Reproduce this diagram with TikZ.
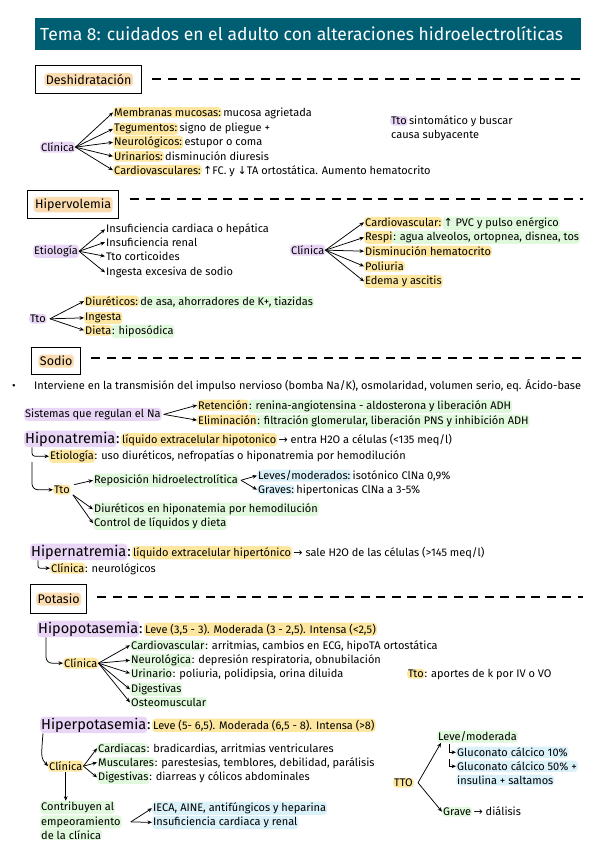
\documentclass[tikz,border=0pt]{standalone}
\usepackage{fontspec}
\setmainfont{Fira Sans}
\newfontfamily\symf{DejaVu Sans}
\usetikzlibrary{arrows.meta}
\definecolor{titlebg}{RGB}{0,94,115}
\definecolor{hlY}{RGB}{253,231,160}
\definecolor{hlP}{RGB}{233,214,246}
\definecolor{hlG}{RGB}{224,248,220}
\definecolor{hlB}{RGB}{218,241,250}
\definecolor{hlO}{RGB}{251,220,176}
\newcommand{\up}{{\symf\char"2191}}
\newcommand{\dn}{{\symf\char"2193}}
\newcommand{\ra}{{\symf\char"2192}}
\tikzset{
  txt/.style={inner sep=1pt, anchor=base west, font=\fontsize{11}{13}\selectfont},
  col/.style={xshift=-1.5pt},
  hl/.style={txt, rounded corners=3.5pt},
  hy/.style={hl, fill=hlY},
  hp/.style={hl, fill=hlP},
  hg/.style={hl, fill=hlG},
  hb/.style={hl, fill=hlB},
  ho/.style={hl, fill=hlO, anchor=center, font=\fontsize{12.5}{14}\selectfont, inner sep=1.5pt},
  big/.style={font=\fontsize{14.5}{16}\selectfont},
  secbox/.style={draw=black, line width=1.3pt, fill=white, anchor=north west, inner sep=0pt},
  dashline/.style={line width=2.2pt, dash pattern=on 9pt off 6.5pt},
  arr/.style={-{Stealth[length=4.5pt,width=3.8pt]}, line width=0.75pt},
}
\begin{document}
\begin{tikzpicture}[x=1pt,y=-1pt]
\useasboundingbox (0,0) rectangle (600,848);
% title
\node[fill=titlebg, anchor=north west, minimum width=546pt, minimum height=32pt, inner sep=0pt] (title) at (35,18) {};
\node[anchor=west, text=white, font=\fontsize{17.5}{19}\selectfont, inner sep=0pt] (titlet) at (40,34) {Tema 8: cuidados en el adulto con alteraciones hidroelectrolíticas};

% ===== Deshidratación
\node[secbox, minimum width=106pt, minimum height=28pt] (sD) at (35,65) {};
\node[ho] (sDt) at (sD.center) {Deshidratación};
\coordinate (sDe) at (583,79);
\draw[dashline] ([xshift=10pt]sD.east |- sDe) -- (sDe);

\node[hp] (dcl) at (40,151.5) {Clínica};
\node[hy] (d1) at (113,116.5) {Membranas mucosas:};
\node[txt] (d1t) at (d1.base east) {mucosa agrietada};
\node[hy] (d2) at (113,131.5) {Tegumentos:};
\node[txt] (d2t) at (d2.base east) {signo de pliegue +};
\node[hy] (d3) at (113,145.5) {Neurológicos:};
\node[txt] (d3t) at (d3.base east) {estupor o coma};
\node[hy] (d4) at (113,160.5) {Urinarios:};
\node[txt] (d4t) at (d4.base east) {disminución diuresis};
\node[hy] (d5) at (113,174.5) {Cardiovasculares:};
\node[txt] (d5t) at (d5.base east) {\up FC. y \dn TA ortostática. Aumento hematocrito};
\foreach \n in {d1,d2,d3,d4,d5} \draw[arr] (dcl.east) -- (\n.west);
\node[hp] (dtto) at (390,124.5) {Tto};
\node[txt] (dtto2) at (dtto.base east) {sintomático y buscar};
\node[txt] (dtto3) at (390,138.5) {causa subyacente};

% ===== Hipervolemia
\node[secbox, minimum width=91pt, minimum height=28pt] (sH) at (27,190) {};
\node[ho] (sHt) at (sH.center) {Hipervolemia};
\coordinate (sHe) at (583,199);
\draw[dashline] ([xshift=11pt]sH.east |- sHe) -- (sHe);

\node[hp] (het) at (33,254.5) {Etiología};
\node[txt] (he1) at (105,232.5) {Insuficiencia cardiaca o hepática};
\node[txt] (he2) at (105,246.5) {Insuficiencia renal};
\node[txt] (he3) at (105,260.5) {Tto corticoides};
\node[txt] (he4) at (105,275.5) {Ingesta excesiva de sodio};
\foreach \n in {he1,he2,he3,he4} \draw[arr] (het.east) -- (\n.west);

\node[hp] (hcl) at (290,254.5) {Clínica};
\node[hy] (hc1) at (364,226.5) {Cardiovascular:};
\node[hg] (hc1t) at (hc1.base east) {\up\ PVC y pulso enérgico\hspace{3pt}};
\node[hy] (hc2) at (364,240.5) {Respi};
\node[hg, col] (hc2t) at (hc2.base east) {: agua alveolos, ortopnea, disnea, tos};
\node[hy] (hc3) at (364,255.5) {Disminución hematocrito};
\node[hy] (hc4) at (364,270.5) {Poliuria\hspace{8pt}};
\node[hy] (hc5) at (364,284.5) {Edema y ascitis\hspace{12pt}};
\foreach \n in {hc1,hc2,hc3,hc4,hc5} \draw[arr] (hcl.east) -- (\n.west);

\node[hp] (htt) at (29,322.5) {Tto};
\node[hy] (ht1) at (84,305.5) {Diuréticos:};
\node[hg] (ht1t) at (ht1.base east) {de asa, ahorradores de K+, tiazidas};
\node[hy] (ht2) at (84,320.5) {Ingesta};
\node[hy] (ht3) at (84,334.5) {Dieta};
\node[hg, col] (ht3t) at (ht3.base east) {: hiposódica};
\foreach \n in {ht1,ht2,ht3} \draw[arr] ([xshift=3pt]htt.east) -- (\n.west);

% ===== Sodio
\node[secbox, minimum width=49pt, minimum height=27pt] (sS) at (31,347) {};
\node[ho] (sSt) at (sS.center) {Sodio};
\coordinate (sSe) at (583,358);
\draw[dashline] ([xshift=10pt]sS.east |- sSe) -- (sSe);

\node[txt] (bul) at (11,389) {•};
\node[txt] (nint) at (33,389) {Interviene en la transmisión del impulso nervioso (bomba Na/K), osmolaridad, volumen serio, eq. Ácido-base};
\node[hp] (nsis) at (24,417.5) {Sistemas que regulan el Na};
\node[hy] (nret) at (197,409.5) {Retención};
\node[hg, col] (nrett) at (nret.base east) {: renina-angiotensina - aldosterona y liberación ADH};
\node[hy] (neli) at (197,424.5) {Eliminación};
\node[hg, col] (nelit) at (neli.base east) {: filtración glomerular, liberación PNS y inhibición ADH};
\draw[arr] ([xshift=2pt]nsis.east) -- (nret.west);
\draw[arr] ([xshift=2pt]nsis.east) -- (neli.west);

\node[hp, big] (hipo) at (24,443) {Hiponatremia};
\node[txt, big, col] (hipoc) at (hipo.base east) {:};
\node[hy] (hipo2) at (hipoc.base east) {líquido extracelular hipotonico};
\node[txt] (hipo3) at (hipo2.base east) {\ra\ entra H2O a células (<135 meq/l)};
\node[hy] (netio) at (49,459.5) {Etiología};
\node[txt, col] (netiot) at (netio.base east) {: uso diuréticos, nefropatías o hiponatremia por hemodilución};
\draw[arr, rounded corners=3pt] ([xshift=8pt]hipo.south west) |- (netio.west);
\node[hy] (ntto) at (53,493.5) {Tto};
\coordinate (nsplit) at (32,462);
\draw[arr, rounded corners=6pt] (nsplit) |- (ntto.west);
\node[hg] (nrep) at (93,483.5) {Reposición hidroelectrolítica};
\draw[arr] ([xshift=3pt]ntto.north east) -- (nrep.west);
\node[hb] (nlev) at (257,479.5) {Leves/moderados:};
\node[txt] (nlevt) at (nlev.base east) {isotónico ClNa 0,9\%};
\node[hb] (ngra) at (257,493.5) {Graves:};
\node[txt] (ngrat) at (ngra.base east) {hipertonicas ClNa a 3-5\%};
\draw[arr] ([xshift=2pt]nrep.east) -- (nlev.west);
\draw[arr] ([xshift=2pt]nrep.east) -- (ngra.west);
\node[hg] (ndiu) at (93,512.5) {Diuréticos en hiponatemia por hemodilución};
\node[hg] (ncon) at (93,526.5) {Control de líquidos y dieta};
\draw[arr] ([xshift=2pt]ntto.south east) -- (ndiu.west);
\draw[arr] ([xshift=2pt]ntto.south east) -- (ncon.west);

\node[hp, big] (hiper) at (30,556) {Hipernatremia};
\node[txt, big, col] (hiperc) at (hiper.base east) {:};
\node[hy] (hiper2) at (hiperc.base east) {líquido extracelular hipertónico};
\node[txt] (hiper3) at (hiper2.base east) {\ra\ sale H2O de las células (>145 meq/l)};
\node[hy] (xcl) at (50,572.5) {Clínica};
\node[txt, col] (xclt) at (xcl.base east) {: neurológicos};
\draw[arr, rounded corners=2pt] ([xshift=8pt]hiper.south west) |- (xcl.west);

% ===== Potasio
\node[secbox, minimum width=56pt, minimum height=29pt] (sP) at (30,584) {};
\node[ho] (sPt) at (sP.center) {Potasio};
\coordinate (sPe) at (583,597);
\draw[dashline] ([xshift=10pt]sP.east |- sPe) -- (sPe);

\node[hp, big] (hpo) at (37,633) {Hipopotasemia};
\node[txt, big, col] (hpoc) at (hpo.base east) {:};
\node[hy] (hpo2) at (hpoc.base east) {Leve (3,5 - 3). Moderada (3 - 2,5). Intensa (<2,5)};
\node[hy] (kcl) at (63,667.5) {Clínica};
\draw[arr, rounded corners=6pt] ([xshift=9pt]hpo.south west) |- (kcl.west);
\node[hg] (k1) at (130,649.5) {Cardiovascular};
\node[txt, col] (k1t) at (k1.base east) {: arritmias, cambios en ECG, hipoTA ortostática};
\node[hg] (k2) at (130,663.5) {Neurológica};
\node[txt, col] (k2t) at (k2.base east) {: depresión respiratoria, obnubilación};
\node[hg] (k3) at (130,677.5) {Urinario};
\node[txt, col] (k3t) at (k3.base east) {: poliuria, polidipsia, orina diluida};
\node[hg] (k4) at (130,692.5) {Digestivas};
\node[hg] (k5) at (130,706.5) {Osteomuscular};
\foreach \n in {k1,k2,k3,k4,k5} \draw[arr] (kcl.east) -- (\n.west);
\node[hy] (ktto) at (407,677.5) {Tto};
\node[txt, col] (kttot) at (ktto.base east) {: aportes de k por IV o VO};

\node[hp, big] (hpe) at (40,729) {Hiperpotasemia};
\node[txt, big, col] (hpec) at (hpe.base east) {:};
\node[hy] (hpe2) at (hpec.base east) {Leve (5- 6,5). Moderada (6,5 - 8). Intensa (>8)};
\node[hy] (kcl2) at (48,770.5) {Clínica};
\draw[arr] ([xshift=3pt]hpe.south west) .. controls (41,758) .. (kcl2.west);
\node[hg] (q1) at (97,752.5) {Cardiacas};
\node[txt, col] (q1t) at (q1.base east) {: bradicardias, arritmias ventriculares};
\node[hg] (q2) at (97,766.5) {Musculares};
\node[txt, col] (q2t) at (q2.base east) {: parestesias, temblores, debilidad, parálisis};
\node[hg] (q3) at (97,780.5) {Digestivas};
\node[txt, col] (q3t) at (q3.base east) {: diarreas y cólicos abdominales};
\foreach \n in {q1,q2,q3} \draw[arr] (kcl2.east) -- (\n.west);
\node[hg] (c1) at (40,810.5) {Contribuyen al};
\node[hg] (c2) at (40,825) {empeoramiento};
\node[hg] (c3) at (40,839) {de la clínica};
\draw[arr] (kcl2.south) -- (kcl2.south |- c1.north);
\node[hb] (ie1) at (152,811.5) {IECA, AINE, antifúngicos y heparina};
\node[hb] (ie2) at (152,825.5) {Insuficiencia cardiaca y renal};
\draw[arr] ([xshift=9pt]c2.east) -- (ie1.west);
\draw[arr] ([xshift=9pt]c2.east) -- (ie2.west);

\node[hy] (tt) at (393,786.5) {TTO};
\node[hg] (lm) at (437,740.5) {Leve/moderada};
\node[hb] (g10) at (456,756.5) {Gluconato cálcico 10\%};
\node[hb] (g50) at (456,770.5) {Gluconato cálcico 50\% +};
\node[hb] (g50b) at (456,784.5) {insulina + saltamos};
\node[hg] (gr) at (442,815.5) {Grave};
\node[txt] (grt) at (gr.base east) {\ra\ diálisis};
\draw[arr] ([xshift=4pt]tt.east) -- ([xshift=4pt]lm.south west);
\draw[arr] ([xshift=4pt]tt.east) -- (gr.west);
\coordinate (b1) at (449,744);
\coordinate (b2) at (449,759);
\draw[arr] (b1) |- (g10.west);
\draw[arr] (b2) |- (g50.west);
\end{tikzpicture}
\end{document}
